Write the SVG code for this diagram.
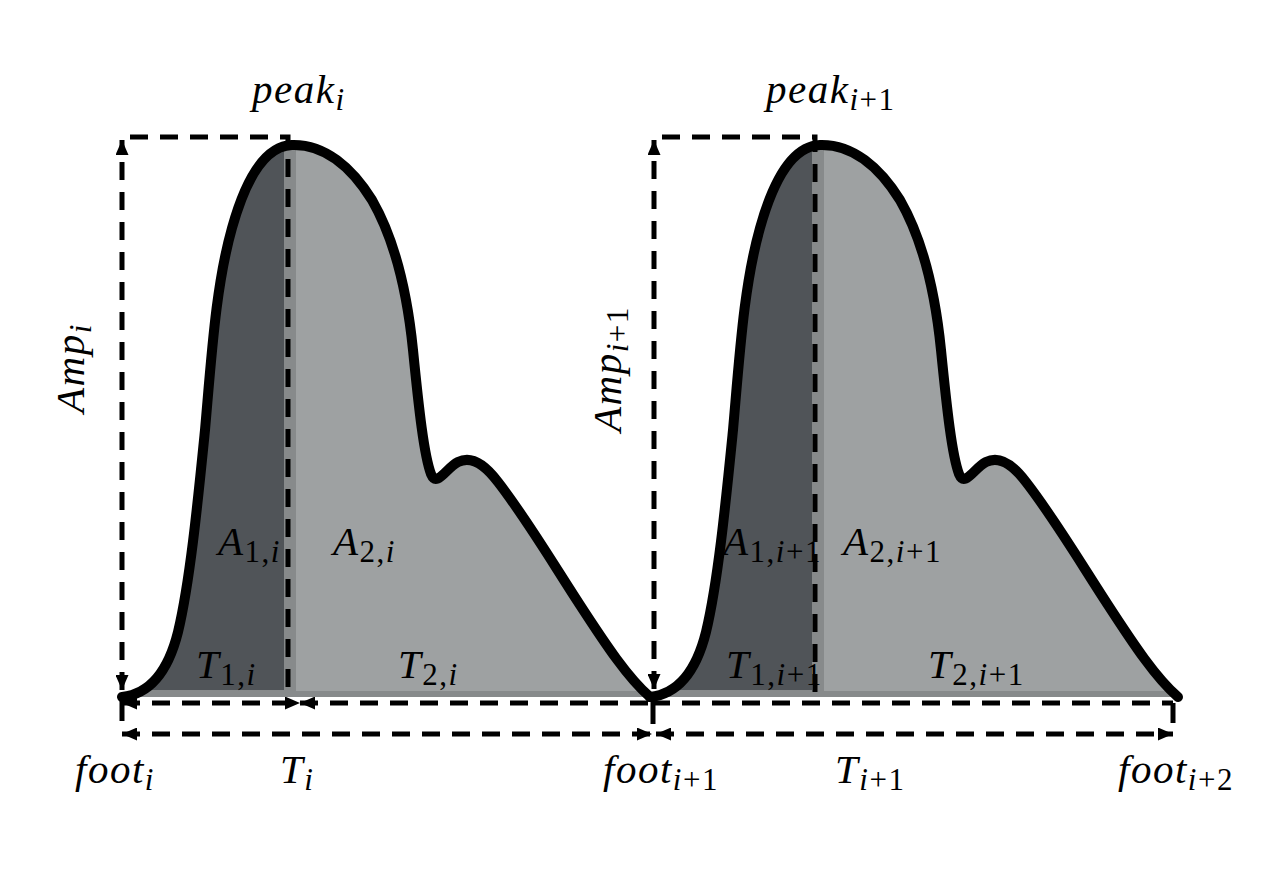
<svg xmlns="http://www.w3.org/2000/svg" width="1277" height="875" viewBox="0 0 1277 875">
<style>
.t{font-family:"Liberation Serif","Times New Roman",serif;font-style:italic;font-size:41px;fill:#000;letter-spacing:1.5px}
.s{font-size:31px}
.u{font-style:normal}
.dash{fill:none;stroke:#000;stroke-width:5;stroke-dasharray:18 12}
.solid{fill:none;stroke:#000;stroke-width:5}
.curve{fill:none;stroke:#000;stroke-width:10;stroke-linecap:round;stroke-linejoin:round}
</style>
<defs>
<clipPath id="pc"><path d="M122,697 C150,694 168,672 178,632 C190,582 198,500 205,430 C212,350 216,285 232,228 C246,178 265,146 292,145 C325,144 352,168 372,200 C395,240 407,290 413,350 C419,410 424,455 431,474 C437,488 446,468 458,462 C472,455 486,466 498,482 C526,518 552,562 580,605 C606,645 628,678 650,697 Z"/></clipPath>
<marker id="ah" viewBox="0 0 15 13" refX="15" refY="6.5" markerWidth="15" markerHeight="13" markerUnits="userSpaceOnUse" orient="auto-start-reverse"><path d="M0,0 L15,6.5 L0,13 Z" fill="#000"/></marker>
</defs>
<rect width="1277" height="875" fill="#fff"/>

<g id="pulse-i">
<g clip-path="url(#pc)">
<rect x="100" y="130" width="560" height="570" fill="#878a8b"/>
<rect x="100" y="130" width="184" height="560" fill="#505458"/>
<rect x="296" y="130" width="360" height="561" fill="#9ea1a2"/>
</g>
<path class="curve" d="M122,697 C150,694 168,672 178,632 C190,582 198,500 205,430 C212,350 216,285 232,228 C246,178 265,146 292,145 C325,144 352,168 372,200 C395,240 407,290 413,350 C419,410 424,455 431,474 C437,488 446,468 458,462 C472,455 486,466 498,482 C526,518 552,562 580,605 C606,645 628,678 650,697"/>
</g>

<g id="pulse-i1" transform="translate(528,0)">
<g clip-path="url(#pc)">
<rect x="100" y="130" width="560" height="570" fill="#878a8b"/>
<rect x="100" y="130" width="184" height="560" fill="#505458"/>
<rect x="296" y="130" width="360" height="561" fill="#9ea1a2"/>
</g>
<path class="curve" d="M122,697 C150,694 168,672 178,632 C190,582 198,500 205,430 C212,350 216,285 232,228 C246,178 265,146 292,145 C325,144 352,168 372,200 C395,240 407,290 413,350 C419,410 424,455 431,474 C437,488 446,468 458,462 C472,455 486,466 498,482 C526,518 552,562 580,605 C606,645 628,678 650,697"/>
</g>

<g id="connectors">
<line class="dash" x1="122" y1="690" x2="122" y2="140" marker-start="url(#ah)" marker-end="url(#ah)"/>
<path class="dash" d="M130,137 H288 V697"/>
<line class="solid" x1="122" y1="700" x2="122" y2="721"/>
<line class="dash" x1="122" y1="703" x2="300" y2="703" marker-start="url(#ah)" marker-end="url(#ah)"/>
<line class="dash" x1="300" y1="703" x2="652" y2="703" marker-start="url(#ah)"/>
<line class="dash" x1="122" y1="734" x2="652" y2="734" marker-start="url(#ah)" marker-end="url(#ah)"/>

<line class="dash" x1="654" y1="689" x2="654" y2="140" marker-start="url(#ah)" marker-end="url(#ah)"/>
<path class="dash" d="M662,137 H815 V703"/>
<line class="solid" x1="653" y1="698" x2="653" y2="724"/>
<path class="dash" d="M652,703 H1173"/>
<line class="solid" x1="1173" y1="703" x2="1173" y2="723"/>
<line class="dash" x1="656" y1="734" x2="1173" y2="734" marker-start="url(#ah)" marker-end="url(#ah)"/>
</g>

<g id="labels">
<text class="t" x="252" y="103">peak<tspan class="s" dy="7">i</tspan></text>
<text class="t" x="766" y="103">peak<tspan class="s" dy="7">i<tspan class="u">+1</tspan></tspan></text>
<text class="t" transform="translate(84,413) rotate(-90)">Amp<tspan class="s" dy="7">i</tspan></text>
<text class="t" transform="translate(621,432) rotate(-90)">Amp<tspan class="s" dy="7">i<tspan class="u">+1</tspan></tspan></text>
<text class="t" x="218" y="555">A<tspan class="s" dy="7"><tspan class="u">1,</tspan>i</tspan></text>
<text class="t" x="333" y="555">A<tspan class="s" dy="7"><tspan class="u">2,</tspan>i</tspan></text>
<text class="t" x="723" y="555">A<tspan class="s" dy="7"><tspan class="u">1,</tspan>i<tspan class="u">+1</tspan></tspan></text>
<text class="t" x="843" y="555">A<tspan class="s" dy="7"><tspan class="u">2,</tspan>i<tspan class="u">+1</tspan></tspan></text>
<text class="t" x="196" y="678">T<tspan class="s" dy="7"><tspan class="u">1,</tspan>i</tspan></text>
<text class="t" x="398" y="678">T<tspan class="s" dy="7"><tspan class="u">2,</tspan>i</tspan></text>
<text class="t" x="726" y="678">T<tspan class="s" dy="7"><tspan class="u">1,</tspan>i<tspan class="u">+1</tspan></tspan></text>
<text class="t" x="928" y="678">T<tspan class="s" dy="7"><tspan class="u">2,</tspan>i<tspan class="u">+1</tspan></tspan></text>
<text class="t" x="75" y="783">foot<tspan class="s" dy="7">i</tspan></text>
<text class="t" x="280" y="783">T<tspan class="s" dy="7">i</tspan></text>
<text class="t" x="603" y="783">foot<tspan class="s" dy="7">i<tspan class="u">+1</tspan></tspan></text>
<text class="t" x="835" y="783">T<tspan class="s" dy="7">i<tspan class="u">+1</tspan></tspan></text>
<text class="t" x="1118" y="783">foot<tspan class="s" dy="7">i<tspan class="u">+2</tspan></tspan></text>
</g>
</svg>
